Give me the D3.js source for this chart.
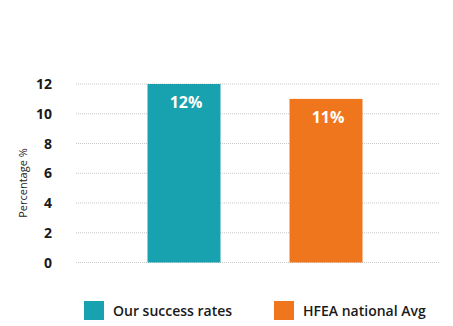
<!DOCTYPE html>
<html>
<head>
<meta charset="utf-8">
<script src="https://cdnjs.cloudflare.com/ajax/libs/d3/7.8.5/d3.min.js"></script>
<style>
  body { margin: 0; background: #fff; }
  svg { display: block; font-family: "Open Sans", Lato, sans-serif; }
</style>
</head>
<body>
<svg id="chart" width="453" height="326"></svg>
<script>
var categories = ["Our success rates", "HFEA national Avg"]
var values = [12, 11]
var colours = ["#18a1ae", "#f0761d"]
var yTicks = [0, 2, 4, 6, 8, 10, 12]

var svg = d3.select("#chart")

var y = d3.scaleLinear()
  .domain([0, 12])
  .range([262.5, 84])

var x = d3.scaleBand()
  .domain(categories)
  .range([113, 397])
  .paddingInner(0.486)
  .paddingOuter(0.243)

// gridlines
svg.append("g")
  .selectAll("line")
  .data(yTicks)
  .enter()
  .append("line")
  .attr("x1", 76)
  .attr("x2", 439)
  .attr("y1", function(d){return y(d)})
  .attr("y2", function(d){return y(d)})
  .attr("stroke", "#c8c8c8")
  .attr("stroke-width", 1)
  .attr("stroke-dasharray", "1,1")

// tick labels
svg.append("g")
  .selectAll("text")
  .data(yTicks)
  .enter()
  .append("text")
  .attr("x", 52)
  .attr("y", function(d){return y(d) + 5})
  .attr("text-anchor", "end")
  .attr("font-size", 14)
  .attr("font-weight", 700)
  .attr("fill", "#1a1a1a")
  .text(function(d){return d})

// axis title
svg.append("text")
  .attr("transform", "translate(27,183) rotate(-90)")
  .attr("text-anchor", "middle")
  .attr("font-size", 11)
  .attr("fill", "#222")
  .text("Percentage %")

// bars
var bars = svg.append("g")
  .selectAll("g")
  .data(values)
  .enter()
  .append("g")

bars.append("rect")
  .attr("x", function(d, i){return x(categories[i])})
  .attr("y", function(d){return y(d)})
  .attr("width", x.bandwidth())
  .attr("height", function(d){return y(0) - y(d)})
  .attr("fill", function(d, i){return colours[i]})

bars.append("text")
  .attr("x", function(d, i){return x(categories[i]) + x.bandwidth() / 2 + 2})
  .attr("y", function(d){return y(d) + 24})
  .attr("text-anchor", "middle")
  .attr("font-size", 16)
  .attr("font-weight", 700)
  .attr("fill", "#fff")
  .text(function(d){return d + "%"})

// legend
var legendX = [84, 274]
var legend = svg.append("g")
  .selectAll("g")
  .data(categories)
  .enter()
  .append("g")
  .attr("transform", function(d, i){return "translate(" + legendX[i] + ",301)"})

legend.append("rect")
  .attr("width", 20)
  .attr("height", 19)
  .attr("fill", function(d, i){return colours[i]})

legend.append("text")
  .attr("x", 29)
  .attr("y", 15)
  .attr("font-size", 14)
  .attr("font-weight", 600)
  .attr("fill", "#1a1a1a")
  .text(function(d){return d})
</script>
</body>
</html>
